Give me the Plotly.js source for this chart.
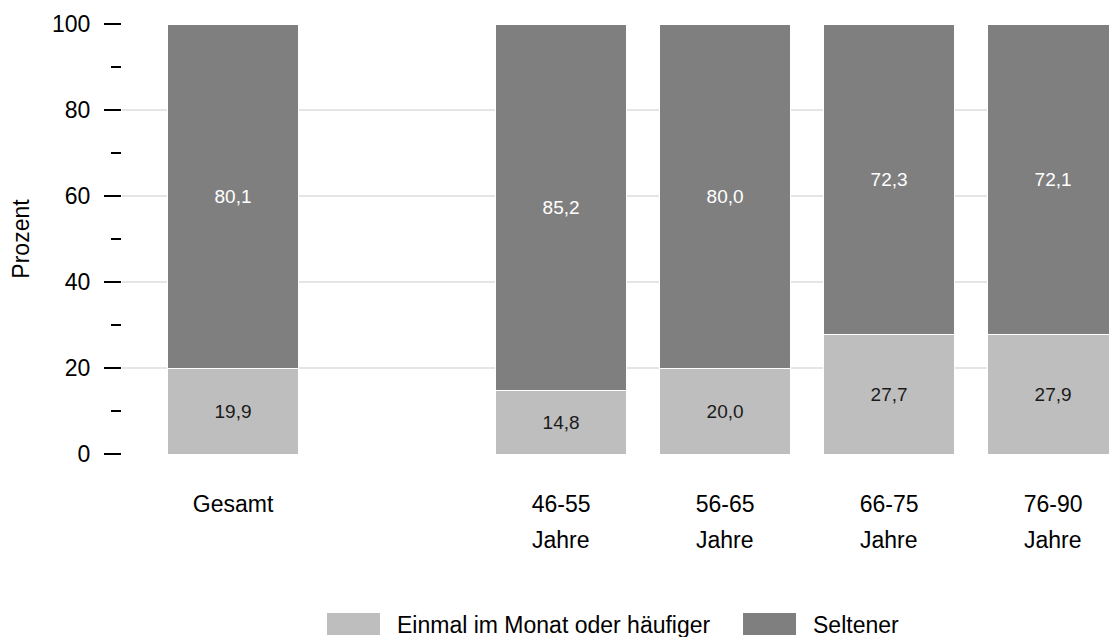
<!DOCTYPE html>
<html>
<head>
<meta charset="utf-8">
<script src="https://cdn.plot.ly/plotly-3.0.1.min.js"></script>
<style>
  html, body { margin: 0; padding: 0; background: #ffffff; }
  #chart { width: 1109px; height: 637px; }
</style>
</head>
<body>
<div id="chart"></div>
<script>
// Group keys (the blank slot separates the total from the age groups)
const categories = ['Gesamt', ' ', '46-55 Jahre', '56-65 Jahre', '66-75 Jahre', '76-90 Jahre'];
const tickLine1  = ['Gesamt', '', '46-55', '56-65', '66-75', '76-90'];
const tickLine2  = ['', '', 'Jahre', 'Jahre', 'Jahre', 'Jahre'];

// Shares in percent
const seriesNames = ['Einmal im Monat oder häufiger', 'Seltener'];
const haeufiger = [19.9, null, 14.8, 20.0, 27.7, 27.9];
const seltener  = [80.1, null, 85.2, 80.0, 72.3, 72.1];

const seriesColors = ['#bebebe', '#7f7f7f'];
const labelColors  = ['#1a1a1a', '#ffffff'];

const yTickVals = [0, 20, 40, 60, 80, 100];

const FONT = 'Liberation Sans, Arial, Helvetica, sans-serif';

function barTrace(values, i) {
  return {
    type: 'bar',
    name: seriesNames[i],
    x: categories,
    y: values,
    marker: { color: seriesColors[i], line: { color: '#ffffff', width: 1 } },
    texttemplate: '%{y:.1f}',
    textposition: 'inside',
    insidetextanchor: 'middle',
    textangle: 0,
    constraintext: 'none',
    textfont: { family: FONT, size: 19, color: labelColors[i] },
    hoverinfo: 'skip',
    showlegend: false
  };
}

const data = [barTrace(haeufiger, 0), barTrace(seltener, 1)];

const shapes = [];
const annotations = [];

// Second line of the group labels, spaced like the first
categories.forEach(function (cat, i) {
  if (!tickLine2[i]) return;
  annotations.push({
    xref: 'x', yref: 'paper',
    x: cat, y: -0.2,
    xanchor: 'center', yanchor: 'middle',
    text: tickLine2[i], showarrow: false,
    font: { family: FONT, size: 23, color: '#000000' }
  });
});

// Legend: wide swatches with labels under the plot
const legendSwatchX = [0.2077, 0.6292];
const legendTextX   = [0.2766, 0.6981];
seriesNames.forEach(function (name, i) {
  shapes.push({
    type: 'rect', xref: 'paper', yref: 'paper',
    x0: legendSwatchX[i], x1: legendSwatchX[i] + 0.0537,
    y0: -0.4209, y1: -0.3698,
    fillcolor: seriesColors[i], line: { width: 0 }
  });
  annotations.push({
    xref: 'paper', yref: 'paper',
    x: legendTextX[i], y: -0.3977,
    xanchor: 'left', yanchor: 'middle',
    text: name, showarrow: false,
    font: { family: FONT, size: 23, color: '#000000' }
  });
});

const layout = {
  width: 1109,
  height: 637,
  margin: { l: 122, r: 0, t: 24, b: 183 },
  paper_bgcolor: '#ffffff',
  plot_bgcolor: '#ffffff',
  barmode: 'stack',
  bargap: 0.2,
  separators: ',.',
  showlegend: false,
  font: { family: FONT, color: '#000000' },
  xaxis: {
    type: 'category',
    categoryorder: 'array',
    categoryarray: categories,
    tickvals: categories,
    ticktext: tickLine1,
    range: [-0.677, 5.341],
    showgrid: false,
    zeroline: false,
    showline: false,
    ticks: '',
    tickfont: { family: FONT, size: 23, color: '#000000' },
    ticklabelstandoff: 34
  },
  yaxis: {
    range: [0, 100],
    tickvals: yTickVals,
    ticks: 'outside',
    ticklen: 17,
    tickwidth: 2,
    tickcolor: '#000000',
    ticklabelstandoff: 9,
    tickfont: { family: FONT, size: 23, color: '#000000' },
    showgrid: true,
    gridcolor: '#e5e5e5',
    gridwidth: 1.3,
    zeroline: true,
    zerolinecolor: '#ffffff',
    showline: false,
    minor: { dtick: 10, ticks: 'outside', ticklen: 10, tickwidth: 2, tickcolor: '#000000', showgrid: false },
    title: { text: 'Prozent', font: { family: FONT, size: 23, color: '#000000' }, standoff: 15 }
  },
  shapes: shapes,
  annotations: annotations
};

Plotly.newPlot('chart', data, layout, { displayModeBar: false, staticPlot: true });
</script>
</body>
</html>
